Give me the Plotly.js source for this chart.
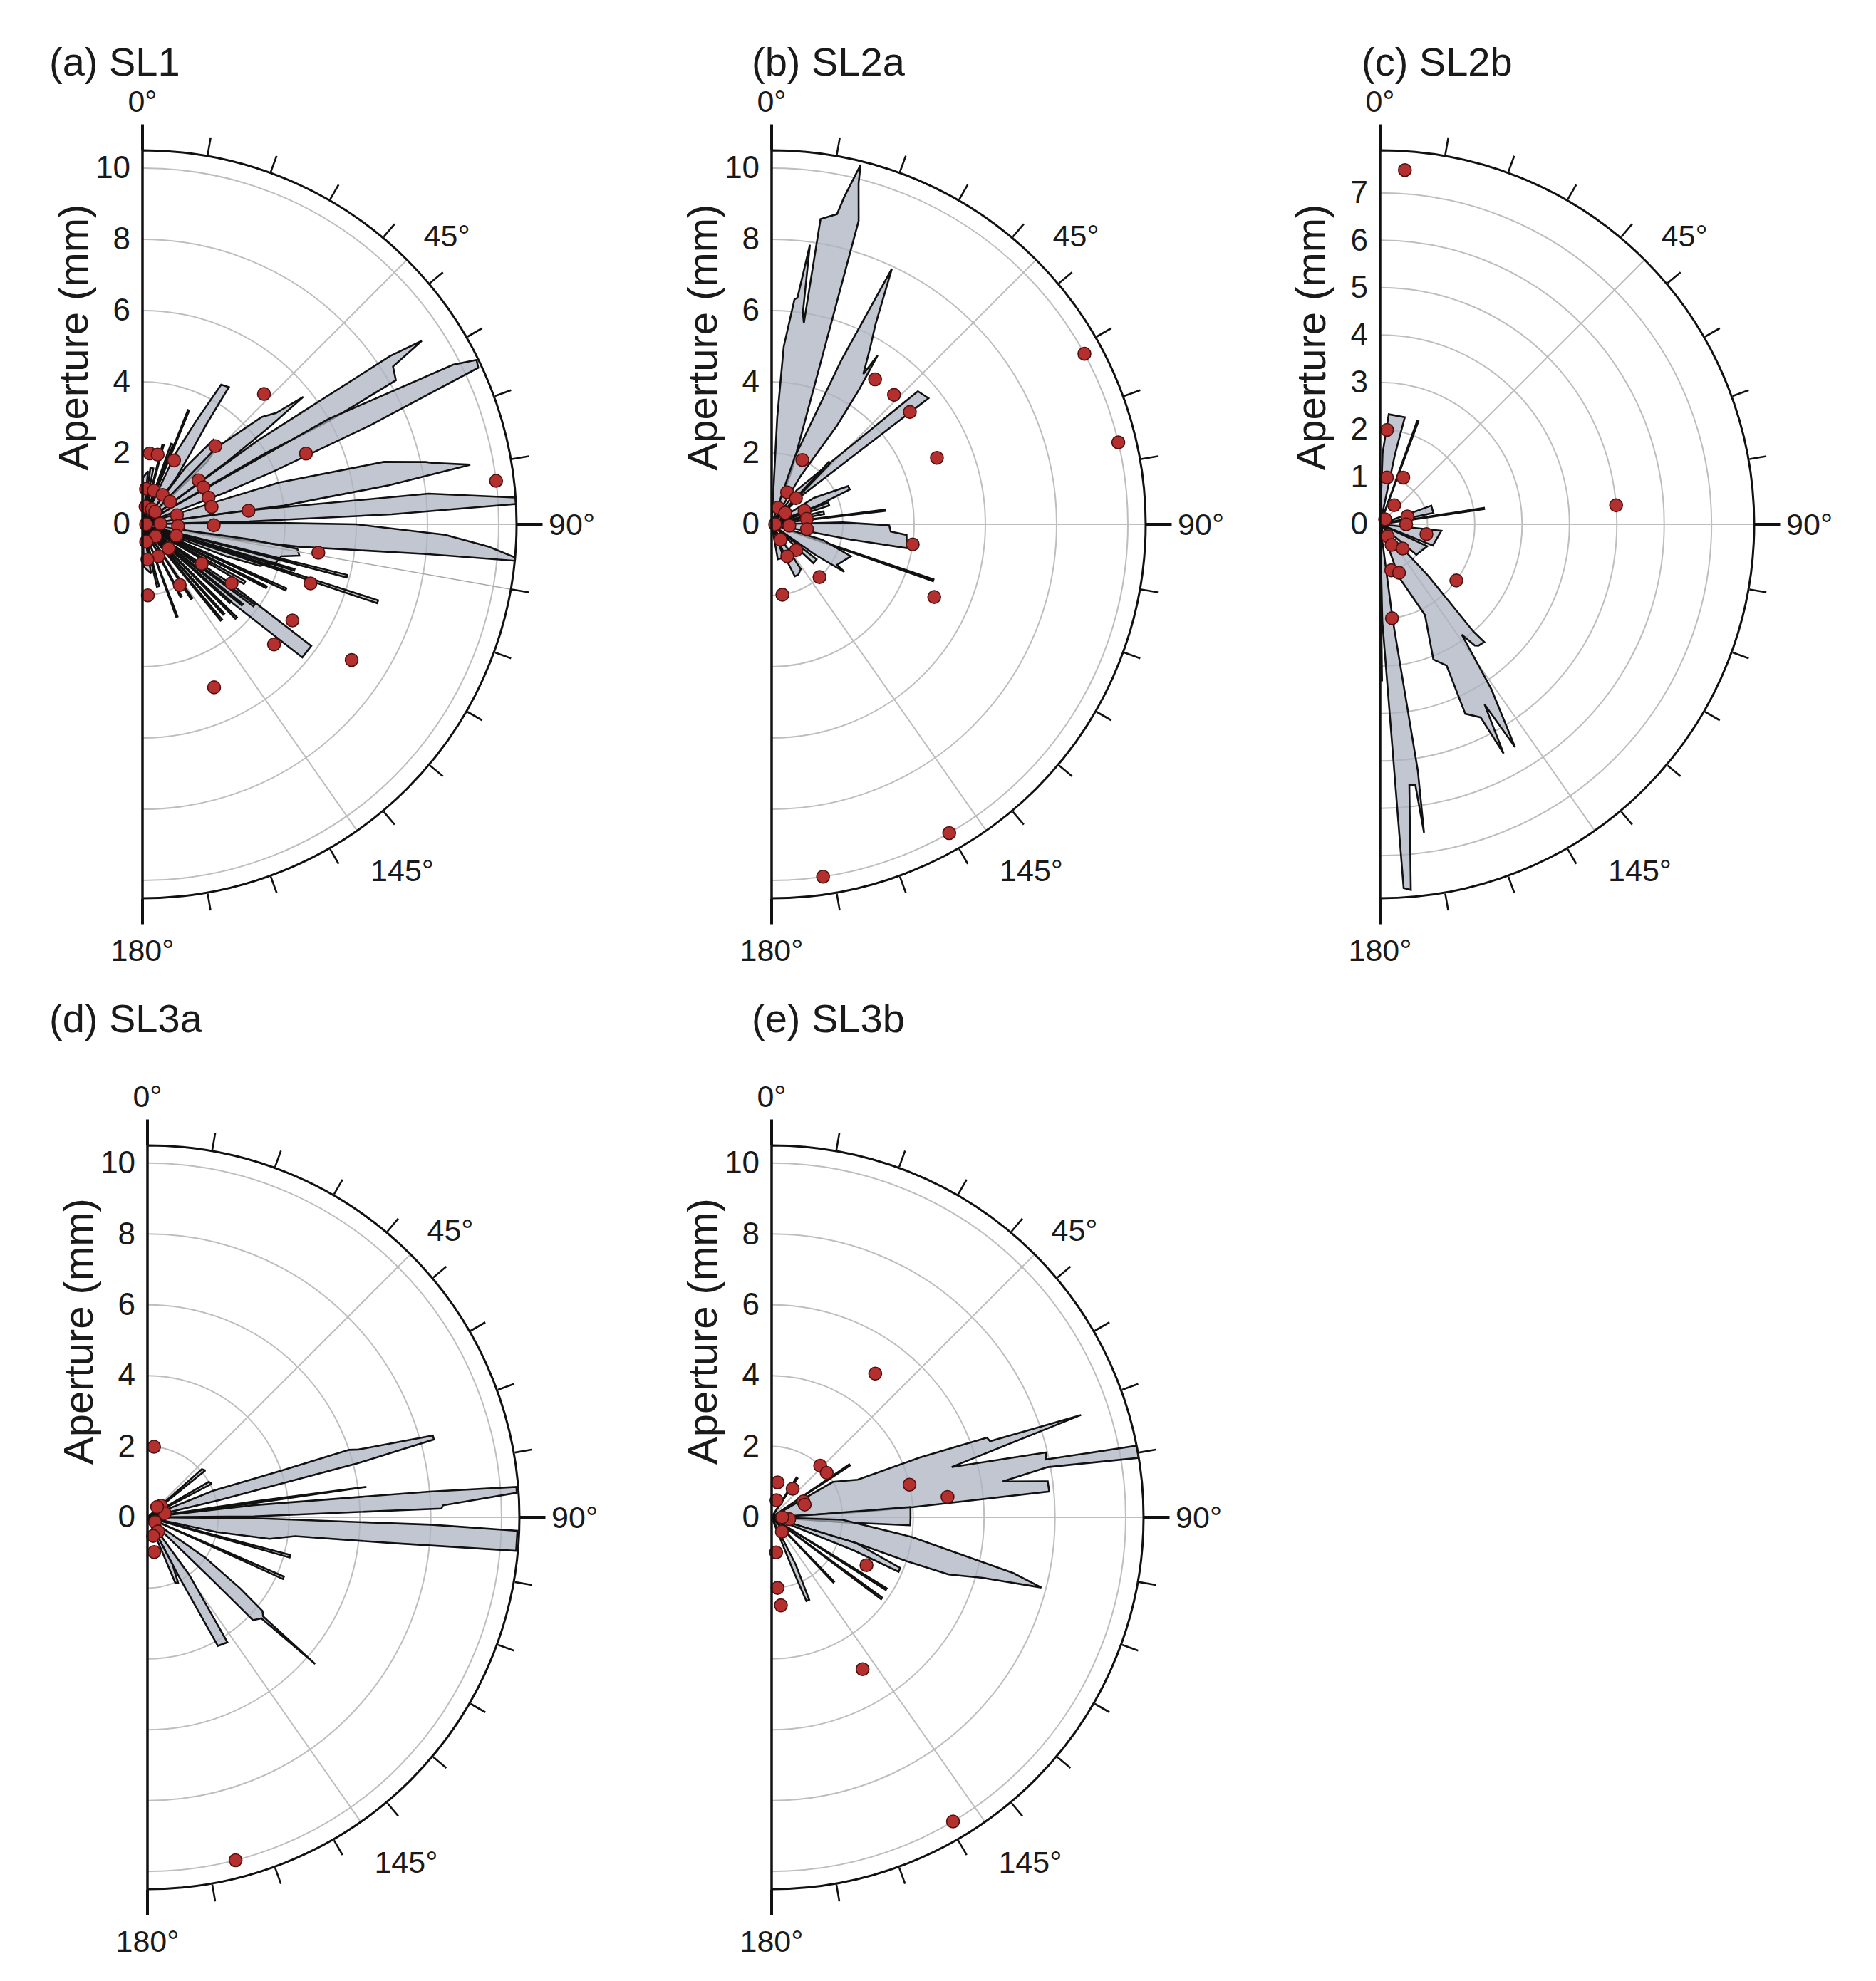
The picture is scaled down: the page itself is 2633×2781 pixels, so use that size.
<!DOCTYPE html>
<html><head><meta charset="utf-8">
<script src="https://cdn.plot.ly/plotly-3.0.1.min.js"></script>
<style>html,body{margin:0;padding:0;background:#fff}#chart{width:2633px;height:2781px}</style>
</head><body><div id="chart"></div>
<script>
// ---------- DATA (theta in degrees, r = aperture in mm) ----------
const panelLabels = ['(a) SL1', '(b) SL2a', '(c) SL2b', '(d) SL3a', '(e) SL3b'];
const angleTickVals = [45, 90, 145];
const angleTickText = ['45°', '', '145°'];
const majorTickVals = [0, 90, 180];
const majorTickText = ['0°', '90°', '180°'];
const minorTickVals = [0,10,20,30,40,50,60,70,80,90,100,110,120,130,140,150,160,170,180];
const radialTicksA = [0, 2, 4, 6, 8, 10];
const radialTicksC = [0, 1, 2, 3, 4, 5, 6, 7];
const radialMax = [10.5, 10.5, 7.9, 10.5, 10.5];

const petalsA = [
  [[8,1.6],[11,1.6]],
  [[14,2.3],[15,2.3]],
  [[19.5,2.4],[21,2.4]],
  [[21.7,3.45],[22.3,3.45]],
  [[25,2.2],[27.5,3.3],[29.4,4.5],[32.2,4.55],[32.6,3.3],[34,2.4],[36,1.6]],
  [[37,2],[40,3.1],[44,3.0],[46,2.5]],
  [[44,3],[48,4.5],[50.2,4.88],[51.6,5.76],[52.5,4.5],[53.5,3]],
  [[54,4],[55.8,8.4],[56.7,9.38],[57.8,8.31],[60.4,8.18],[61,6],[60,4]],
  [[60.5,6],[62.8,9.8],[63.8,10.45],[65,10.4],[66.5,7],[68,4],[69,2.5]],
  [[73,4],[75.5,7],[77.6,8.14],[78,8.3],[79.7,9.35],[81,7],[82.5,4]],
  [[82.5,3],[83.9,8.08],[85.9,10.5],[86.9,10.5],[87.7,7],[88.5,3]],
  [[89,3],[90,6],[92,8.5],[93.7,9.74],[95.1,10.5],[95.6,10.5],[96,8],[98.2,4.4],[99.5,2.5]],
  [[98,3],[99,4.4],[101.3,4.49],[103,4.0],[106,3.9],[109.5,3.5],[111,2.5]],
  [[103.9,5.92],[104.6,5.92]],
  [[106.4,4.45],[107,4.45]],
  [[107.9,6.95],[108.6,6.95]],
  [[114,4.42],[114.8,4.42]],
  [[116.5,3.9],[117.3,3.9]],
  [[119,3.3],[120.5,3.3]],
  [[124,3],[125.8,5.84],[129.8,5.84],[131.6,3]],
  [[125.5,3.87],[126.5,3.87]],
  [[128.5,3.6],[129.3,3.6]],
  [[131,3.3],[132,3.3]],
  [[134.6,3.72],[135.5,3.72]],
  [[137.5,3.4],[138.3,3.4]],
  [[140.1,3.48],[141,3.48]],
  [[146,2.5],[147,2.5]],
  [[151.5,2.3],[152.5,2.3]],
  [[159.2,2.77],[160,2.77]],
  [[165,1.8],[167,1.8]],
  [[0.5,1.3],[6,1.5]],
  [[170,1.4],[178,1.2]]
];
const thinLineThetaA = [100, 100];
const thinLineRA = [0, 10.5];
const dotThetaA = [43,43,66.6,83,82.7,90.8,99.2,109.4,123.5,123.6,148.5,175.7,122.7,132.4,123,156.3,5.8,12.3,26.3,51.9,58.7,68,75.9,
                   5.6,18.7,34.5,50.7,75.3,92.7,108.6,132.8,153.8,172, 10,32,45.7,88,133,168, 90];
const dotRA     = [5,3,5,10,3,2,5,5,3,2,2,2,5,5,7,5,2,2,2,2,2,2,2,
                   1,1,1,1,1,1,1,1,1,1, 0.5,0.5,0.5,0.5,0.5,0.5, 0.1];

const petalsB = [
  [[3.0,3],[3.9,5.0],[5.8,6.35],[6.5,6.4],[7.8,7.92],[8.4,6],[9.1,5.72],[9.1,8.68],[11.9,8.9],[12.5,9.41],[13.9,10.4],[14.3,9.88],[16,8.86],[20.5,1.6]],
  [[19,2],[23,5],[25.2,7.93],[27.5,6.3],[29.1,5.7],[31.4,4.94],[32.1,5.6],[33,4.5],[33.5,3.33],[31,1.6]],
  [[36.3,1.19],[47.7,5.55],[51.2,5.65],[46.2,1.12]],
  [[42.5,2.38],[44,2.38]],
  [[58,1.4],[63.5,2.4],[66,2.4],[68,1.4]],
  [[69,1.7],[72,1.7]],
  [[76,1.5],[79,1.5]],
  [[82.6,3.2],[83.3,3.2]],
  [[88.5,2],[90.5,3.3],[93.5,3.35],[94.5,3.8],[100,3.85],[101,2.2]],
  [[108.8,4.8],[109.4,4.8]],
  [[107,1.5],[112,2.4],[121.8,2.16],[123.2,2.44],[125,1.5]],
  [[128,1.6],[133,1.6]],
  [[147,1.5],[152,1.6],[156,1.6],[157,1.2]],
  [[160,1.0],[170,1.0]]
];
const dotThetaB = [35.5,43.4,50.9,68.1,61.4,76.7,25.6,25.7,43,98.1,137.8,171.3,114.1,150.1,171.7,21.7,50,67.6,81,97.8,94.5,150,136.6,154,90];
const dotRB     = [5,5,5,5,10,10,2,1,1,4,2,2,5,10,10,0.5,0.5,1,1,1,0.5,0.5,1,1,0.1];

const petalsC = [
  [[2,1.5],[4.5,2.33],[13,2.32],[12,1.5]],
  [[19.7,2.32],[20.4,2.32]],
  [[70,1.15],[78,1.15]],
  [[81,2.22],[81.7,2.22]],
  [[96,1.3],[112,1.2]],
  [[115,1.1],[130,1.0]],
  [[137,1.5],[139,3.0],[138.5,3.32],[141,3.3],[142,3.25],[143.5,2.9],[146,4.2],[148.8,5.5],[149.9,4.4],[151.7,5.5],[152.5,4.6],[155.8,4.39],[154.8,3.3],[158.5,3.07],[153.7,2.14],[160.4,1.18]],
  [[172.5,2.0],[171.3,5.27],[171.9,6.58],[172.3,5.56],[173.6,5.54],[175.2,7.75],[176.3,7.7],[178.7,2.05]],
  [[179.3,3.3],[179.8,3.3]]
];
const dotThetaC = [4.2,8.3,26.4,36.6,74,90,102,148,151,137,166.4,158.7,126.4,172.8,4.0,85.4,45];
const dotRC     = [2,1,1.1,0.5,0.6,0.55,1,0.3,0.5,0.7,1,1.1,2,2,7.5,5,0.15];

const petalsD = [
  [[48.5,2.05],[51,2.1]],
  [[60,2.0],[62.5,2.05]],
  [[68,2],[70.8,4.0],[71.5,6.0],[72.2,6.26],[74,8.38],[74.8,8.38],[75.6,6.1],[76.6,2.1]],
  [[81.5,3],[82.1,6.24],[82.5,3]],
  [[83.5,3],[84.8,8],[85.3,10.45],[86.2,10.45],[87.7,8.35],[88.3,8.3],[89.5,3]],
  [[90.5,3],[91.5,8],[92.1,10.45],[95.2,10.45],[96,7],[97.3,4.2],[100,3.5],[102,2]],
  [[104.8,4.17],[105.8,4.17]],
  [[113.5,4.2],[114.5,4.2]],
  [[125,2],[127.5,3.3],[129.2,4.19],[130.6,4.3],[131.2,6.29],[131.6,4.3],[134.3,4.16],[134,2.5]],
  [[144,2],[147.4,4.19],[151.3,4.14],[152,2]],
  [[152,1.5],[155,2.05],[157,2.0]]
];
const dotThetaD = [5.3,49,77,122,143,163,169,165.6,43];
const dotRD     = [2,0.5,0.5,0.25,0.5,0.55,1,10,0.4];

const petalsE = [
  [[32,1.32],[33.5,1.32]],
  [[55.7,2.65],[56.5,2.65]],
  [[60,2],[66.4,2.65],[68,4.5],[69.7,6.48],[70.8,6.53],[71.7,9.2],[74.4,5.28],[76.7,7.96],[78.1,7.92],[78.9,10.5],[80.8,10.5],[79.7,7.92],[81.2,6.6],[82.6,7.86],[84.7,7.87],[85.9,4.0],[86.5,2.5]],
  [[86.4,1.3],[85.8,3.93],[90.3,3.92],[93.3,3.92],[94,2]],
  [[92,2],[98,4],[103,7],[104.6,7.87],[106,6.2],[107.9,5.25],[108,4],[107,2.5]],
  [[107,2.5],[111.5,3.9],[113.2,3.9],[112,2.5]],
  [[121.7,3.82],[122.5,3.82]],
  [[126,3.86],[126.8,3.86]],
  [[135.8,2.53],[136.6,2.53]],
  [[153,1.5],[155.5,2.56],[157.5,2.56],[158,1.5]]
];
const dotThetaE = [35.8,76.7,83.4,43.3,51,116.8,149.1,149.2,9.8,36.4,16,63.5,69,172.7,175.2,174,144.6,96,90];
const dotRE     = [5,4,5,2,2,3,5,10,1,1,0.5,1,1,1,2,2.5,0.5,0.5,0.3];

// ---------- LAYOUT GEOMETRY (pixels) ----------
const W = 2633, H = 2781;
const FONT = 'Liberation Sans, Arial, Helvetica, sans-serif';
const geom = [
  {cx:200,  cy:736,  R:525, lx:67,   ly:86},
  {cx:1083, cy:736,  R:525, lx:1053, ly:86},
  {cx:1937, cy:736,  R:525, lx:1909, ly:86},
  {cx:207,  cy:2130, R:522, lx:67,   ly:1429},
  {cx:1083, cy:2130, R:522, lx:1053, ly:1429}
];
const petalSets = [petalsA, petalsB, petalsC, petalsD, petalsE];
const dotT = [dotThetaA, dotThetaB, dotThetaC, dotThetaD, dotThetaE];
const dotR = [dotRA, dotRB, dotRC, dotRD, dotRE];
const radialTicks = [radialTicksA, radialTicksA, radialTicksC, radialTicksA, radialTicksA];

const traces = [];
const layout = {
  width: W, height: H, margin: {l:0, r:0, t:0, b:0},
  paper_bgcolor: '#fff', showlegend: false,
  font: {family: FONT, color: '#1a1a1a'},
  annotations: []
};
const pname = n => n === 1 ? 'polar' : 'polar' + n;

geom.forEach((g, i) => {
  const dom = {x: [g.cx / W, (g.cx + g.R) / W], y: [1 - (g.cy + g.R) / H, 1 - (g.cy - g.R) / H]};
  const nMain = 3 * i + 1, nTick = 3 * i + 2, nMaj = 3 * i + 3;
  const angBase = {rotation: 90, direction: 'clockwise', tickmode: 'array'};
  layout[pname(nMain)] = {
    domain: dom, sector: [-90, 90], bgcolor: 'rgba(0,0,0,0)',
    angularaxis: Object.assign({}, angBase, {
      tickvals: angleTickVals, ticktext: angleTickText, ticks: 'outside', ticklen: 24,
      tickcolor: 'rgba(0,0,0,0)', showline: false, showgrid: true, gridcolor: '#bebebe', gridwidth: 2,
      tickfont: {size: 43, family: FONT, color: '#1a1a1a'}
    }),
    radialaxis: {
      range: [0, radialMax[i]], angle: 90, side: 'counterclockwise', tickmode: 'array',
      tickvals: radialTicks[i], showgrid: true, gridcolor: '#bebebe', gridwidth: 2,
      showline: true, linecolor: '#111', linewidth: 3, ticks: '', tickangle: 90,
      tickfont: {size: 44, family: FONT, color: '#1a1a1a'}
    }
  };
  layout[pname(nTick)] = {
    domain: dom, sector: [-90, 90], bgcolor: 'rgba(0,0,0,0)',
    angularaxis: Object.assign({}, angBase, {
      tickvals: minorTickVals, ticks: 'outside', ticklen: 24, tickwidth: 2.6, tickcolor: '#111',
      showticklabels: false, showline: true, linecolor: '#111', linewidth: 3, showgrid: false
    }),
    radialaxis: {range: [0, radialMax[i]], angle: -90, showline: true, linecolor: '#111', linewidth: 3,
      showgrid: false, showticklabels: false, ticks: ''}
  };
  layout[pname(nMaj)] = {
    domain: dom, sector: [-90, 90], bgcolor: 'rgba(0,0,0,0)',
    angularaxis: Object.assign({}, angBase, {
      tickvals: majorTickVals, ticktext: majorTickText, ticks: 'outside', ticklen: 36, tickwidth: 4,
      tickcolor: '#111', showline: false, showgrid: false,
      tickfont: {size: 43, family: FONT, color: '#1a1a1a'}
    }),
    radialaxis: {range: [0, radialMax[i]], showline: false, showgrid: false, showticklabels: false, ticks: ''}
  };

  // petals
  petalSets[i].forEach(p => {
    const th = [p[0][0]].concat(p.map(v => v[0]), [p[p.length - 1][0]]);
    const rr = [0].concat(p.map(v => v[1]), [0]);
    traces.push({type: 'scatterpolar', subplot: pname(nMain), r: rr, theta: th, mode: 'lines',
      fill: 'toself', fillcolor: 'rgba(172,178,192,0.74)', line: {color: '#111', width: 2.6},
      hoverinfo: 'skip'});
  });
  if (i === 0) {
    traces.push({type: 'scatterpolar', subplot: pname(nMain), r: thinLineRA, theta: thinLineThetaA,
      mode: 'lines', line: {color: '#a8a8a8', width: 1.5}, hoverinfo: 'skip'});
  }
  traces.push({type: 'scatterpolar', subplot: pname(nMain), r: dotR[i], theta: dotT[i], mode: 'markers',
    marker: {size: 18, color: '#b3302e', line: {color: '#4d1010', width: 1.6}}, hoverinfo: 'skip'});
  traces.push({type: 'scatterpolar', subplot: pname(nTick), r: [], theta: [], mode: 'markers', hoverinfo: 'skip'});
  traces.push({type: 'scatterpolar', subplot: pname(nMaj), r: [], theta: [], mode: 'markers', hoverinfo: 'skip'});

  layout.annotations.push({xref: 'paper', yref: 'paper', x: g.lx / W, y: 1 - g.ly / H, xanchor: 'left',
    yanchor: 'middle', text: panelLabels[i], showarrow: false, font: {size: 56, family: FONT, color: '#1a1a1a'}});
  layout.annotations.push({xref: 'paper', yref: 'paper', x: (g.cx - 98) / W, y: 1 - (g.cy - g.R / 2) / H,
    xanchor: 'center', yanchor: 'middle', textangle: -90, text: 'Aperture (mm)', showarrow: false,
    font: {size: 58, family: FONT, color: '#1a1a1a'}});
});

Plotly.newPlot('chart', traces, layout, {staticPlot: true});
</script>
</body></html>
